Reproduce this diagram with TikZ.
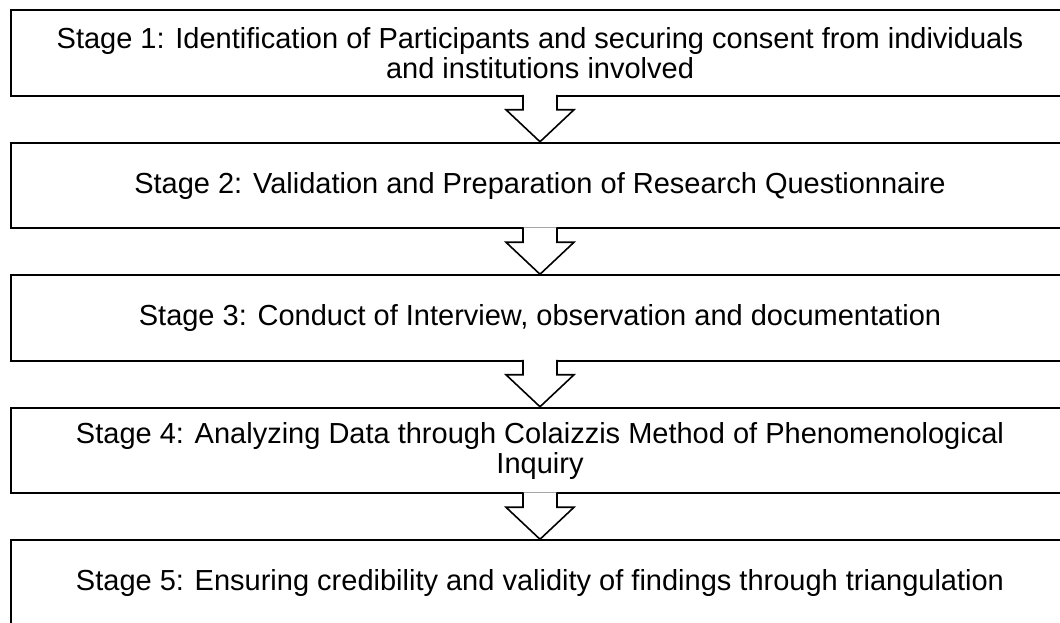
\documentclass[tikz,border=0pt]{standalone}
\usepackage{fontspec}
\setmainfont{Liberation Sans}
\usetikzlibrary{positioning, calc}
\tikzstyle{stageBox} = [draw, rectangle, line width=1pt,
   minimum width=529pt, minimum height=42.75pt,
   align=center, font=\fontsize{14.5}{15}\selectfont]
\tikzstyle{flowArrow} = [draw, fill=white, line width=0.8pt]

\begin{document}
\begin{tikzpicture}[node distance=22.5pt]
  \useasboundingbox (0,0) rectangle (530pt,-311pt);

  \node[stageBox] (s1) at (270pt,-26.5pt) {Stage 1: Identification of Participants and securing consent from individuals\\and institutions involved};
  \node[stageBox, below=of s1] (s2) {Stage 2: Validation and Preparation of Research Questionnaire};
  \node[stageBox, below=of s2] (s3) {Stage 3: Conduct of Interview, observation and documentation};
  \node[stageBox, below=of s3] (s4) {Stage 4: Analyzing Data through Colaizzis Method of Phenomenological\\Inquiry};
  \node[stageBox, below=of s4] (s5) {Stage 5: Ensuring credibility and validity of findings through triangulation};

  % hollow arrows, white fill hides the box line under the shaft
  \foreach \a/\b in {s1/s2, s2/s3, s3/s4, s4/s5}
    \draw[flowArrow] ([xshift=-8.5pt,yshift=1pt]\a.south) -- ++(0,-7.5pt) -- ++(-8.5pt,0)
      -- (\b.north) -- ([xshift=17pt,yshift=-6.5pt]\a.south) -- ++(-8.5pt,0)
      -- ([xshift=8.5pt,yshift=1pt]\a.south);
\end{tikzpicture}
\end{document}
